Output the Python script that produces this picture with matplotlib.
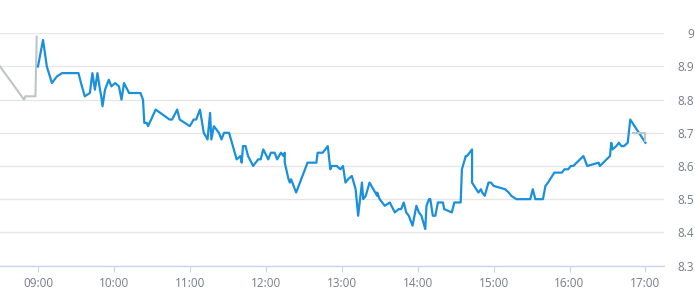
import matplotlib.pyplot as plt
from matplotlib.ticker import FuncFormatter

# intraday price (blue = regular session, grey = pre / post)
pre_times = ['08:30', '08:49', '08:50', '08:58', '08:59']
pre_values = [8.90, 8.80, 8.81, 8.81, 8.99]

times = ['09:00', '09:04', '09:07', '09:11', '09:15', '09:19', '09:32', '09:34', '09:37', '09:41',
         '09:43', '09:45', '09:47', '09:49', '09:50', '09:51', '09:53', '09:56', '09:58', '10:01',
         '10:04', '10:06', '10:08', '10:12', '10:21', '10:23', '10:24', '10:26', '10:27', '10:33',
         '10:44', '10:46', '10:50', '10:52', '11:00', '11:03', '11:05', '11:08', '11:11', '11:14',
         '11:16', '11:17', '11:19', '11:23', '11:25', '11:27', '11:31', '11:34', '11:37', '11:40',
         '11:41', '11:42', '11:44', '11:46', '11:50', '11:54', '11:56', '11:58', '12:02', '12:04',
         '12:07', '12:09', '12:12', '12:14', '12:15', '12:15', '12:18', '12:19', '12:20', '12:24',
         '12:33', '12:40', '12:41', '12:45', '12:49', '12:51', '12:52', '12:56', '12:59', '13:01',
         '13:03', '13:05', '13:08', '13:11', '13:13', '13:16', '13:17', '13:19', '13:22', '13:25',
         '13:28', '13:28', '13:30', '13:34', '13:38', '13:42', '13:45', '13:47', '13:49', '13:51',
         '13:53', '13:56', '13:59', '14:01', '14:03', '14:06', '14:07', '14:09', '14:10', '14:12',
         '14:14', '14:16', '14:20', '14:21', '14:27', '14:29', '14:34', '14:35', '14:38', '14:39',
         '14:43', '14:43', '14:48', '14:50', '14:51', '14:53', '14:56', '14:58', '15:00', '15:09',
         '15:12', '15:14', '15:18', '15:29', '15:31', '15:33', '15:39', '15:41', '15:43', '15:48',
         '15:54', '15:56', '15:59', '16:01', '16:03', '16:11', '16:14', '16:23', '16:24', '16:32',
         '16:33', '16:34', '16:37', '16:39', '16:41', '16:43', '16:46', '16:48', '17:00']
values = [8.90, 8.98, 8.90, 8.85, 8.87, 8.88, 8.88, 8.85, 8.81, 8.82,
          8.88, 8.83, 8.88, 8.83, 8.81, 8.78, 8.83, 8.86, 8.84, 8.85,
          8.84, 8.80, 8.85, 8.82, 8.82, 8.80, 8.73, 8.73, 8.72, 8.77,
          8.74, 8.74, 8.77, 8.74, 8.72, 8.74, 8.74, 8.77, 8.70, 8.68,
          8.76, 8.68, 8.72, 8.70, 8.68, 8.70, 8.70, 8.66, 8.62, 8.63,
          8.61, 8.66, 8.66, 8.63, 8.60, 8.62, 8.62, 8.65, 8.62, 8.64,
          8.64, 8.62, 8.64, 8.63, 8.64, 8.61, 8.56, 8.55, 8.56, 8.52,
          8.61, 8.61, 8.64, 8.64, 8.66, 8.59, 8.60, 8.60, 8.59, 8.60,
          8.55, 8.56, 8.57, 8.53, 8.45, 8.55, 8.50, 8.51, 8.55, 8.53,
          8.51, 8.52, 8.50, 8.48, 8.49, 8.46, 8.47, 8.47, 8.49, 8.46,
          8.45, 8.42, 8.48, 8.46, 8.45, 8.41, 8.48, 8.50, 8.50, 8.45,
          8.45, 8.49, 8.49, 8.47, 8.46, 8.49, 8.49, 8.59, 8.63, 8.63,
          8.65, 8.55, 8.52, 8.53, 8.52, 8.51, 8.55, 8.55, 8.54, 8.53,
          8.52, 8.51, 8.50, 8.50, 8.53, 8.50, 8.50, 8.54, 8.55, 8.58,
          8.58, 8.59, 8.59, 8.60, 8.60, 8.63, 8.60, 8.61, 8.60, 8.63,
          8.67, 8.65, 8.66, 8.67, 8.66, 8.66, 8.67, 8.74, 8.67]

post_times = ['16:50', '17:00', '17:00']
post_values = [8.70, 8.70, 8.675]

hour_ticks = ['09:00', '10:00', '11:00', '12:00', '13:00', '14:00', '15:00', '16:00', '17:00']
price_ticks = [8.3, 8.4, 8.5, 8.6, 8.7, 8.8, 8.9, 9.0]


def to_hours(t):
    h, m = t.split(':')
    return int(h) + int(m) / 60


plt.rcParams['font.family'] = ['Open Sans', 'DejaVu Sans']
label_color = '#727e8b'

fig = plt.figure(figsize=(6.95, 3.0), dpi=100)
ax = fig.add_axes([0, 0.115, 0.956, 0.774])

ax.plot([to_hours(t) for t in pre_times], pre_values, color='#bcc4cc', lw=1.5, zorder=3)
ax.plot([to_hours(t) for t in times], values, color='#1a90dd', lw=1.6, zorder=3)
ax.plot([to_hours(t) for t in post_times], post_values, color='#bcc4cc', lw=1.5, zorder=4)

ax.set_xlim(to_hours('08:30'), to_hours('17:15'))
ax.set_ylim(8.3, 9.0)

ax.set_xticks([to_hours(t) for t in hour_ticks])
ax.set_xticklabels(hour_ticks)
ax.set_yticks(price_ticks)
ax.yaxis.set_major_formatter(FuncFormatter(lambda v, p: f'{v:g}'))
ax.yaxis.tick_right()

ax.grid(axis='y', color='#e6e6e6', lw=1)
ax.set_axisbelow(True)
for s in ['top', 'left', 'right']:
    ax.spines[s].set_visible(False)
ax.spines['bottom'].set_color('#ccd6eb')
ax.spines['bottom'].set_linewidth(1)

ax.tick_params(axis='x', length=4, color='#ccd6eb', pad=4.5, labelsize=8.5, labelcolor=label_color)
ax.tick_params(axis='y', length=0, pad=21.5, labelsize=8.5, labelcolor=label_color)
for lab in ax.get_yticklabels():
    lab.set_horizontalalignment('right')

fig.savefig('out.png', dpi=100)
